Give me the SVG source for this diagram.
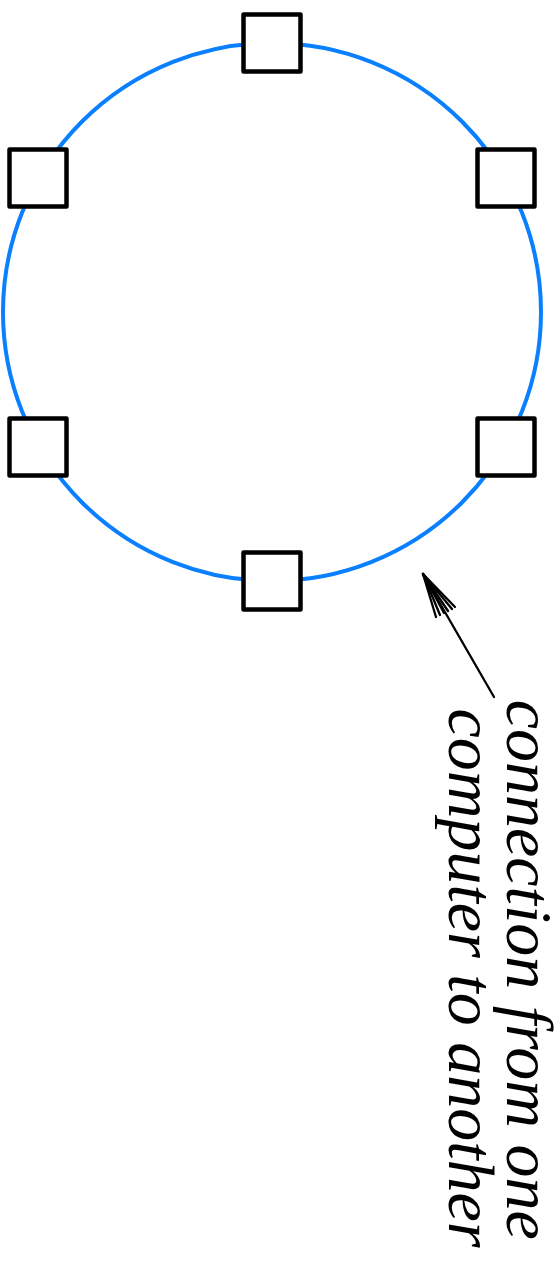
<svg xmlns="http://www.w3.org/2000/svg" width="560" height="1275" viewBox="0 0 560 1275">
<style>
.ring{fill:none;stroke:#0a80ff;stroke-width:4}
.node{fill:#fff;stroke:#000;stroke-width:4.5;stroke-linejoin:round}
.conn{stroke:#000;stroke-width:2.3;fill:none;stroke-linecap:round}
</style>
<rect width="560" height="1275" fill="#fff"/>
<g id="connectors">
<circle class="ring" cx="272" cy="312" r="269"/>
<line class="conn" x1="494" y1="697" x2="423" y2="574"/>
<g class="conn">
<line x1="423" y1="574" x2="436" y2="617"/>
<line x1="423" y1="574" x2="440" y2="615"/>
<line x1="423" y1="574" x2="444" y2="613"/>
<line x1="423" y1="574" x2="448" y2="611"/>
<line x1="423" y1="574" x2="452" y2="609"/>
<line x1="423" y1="574" x2="455" y2="607"/>
</g>
</g>
<g id="n-top"><rect class="node" x="243.5" y="14.5" width="57" height="57"/></g>
<g id="n-top-right"><rect class="node" x="477.5" y="149.5" width="57" height="57"/></g>
<g id="n-bottom-right"><rect class="node" x="477.5" y="418.5" width="57" height="57"/></g>
<g id="n-bottom"><rect class="node" x="243.5" y="552.5" width="57" height="57"/></g>
<g id="n-bottom-left"><rect class="node" x="9.5" y="418.5" width="57" height="57"/></g>
<g id="n-top-left"><rect class="node" x="9.5" y="149.5" width="57" height="57"/></g>
<g id="label">
<text font-family="'Liberation Serif', serif" font-style="italic" font-size="66" fill="#000" transform="rotate(90)" text-anchor="middle">
<tspan x="978" y="-507">connection from one</tspan>
<tspan x="978" y="-449">computer to another</tspan>
</text>
</g>
</svg>
